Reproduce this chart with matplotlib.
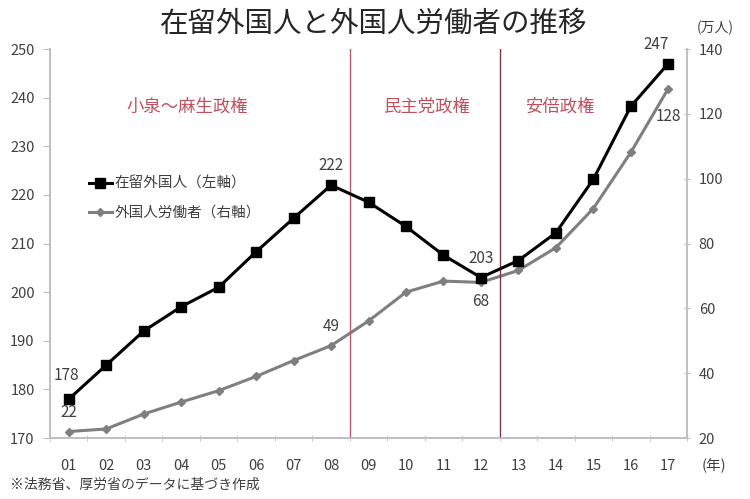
import matplotlib
matplotlib.use("Agg")
import matplotlib.pyplot as plt
from matplotlib.lines import Line2D

plt.rcParams['font.family'] = ['Noto Sans CJK JP', 'DejaVu Sans']

years = ["01", "02", "03", "04", "05", "06", "07", "08", "09",
         "10", "11", "12", "13", "14", "15", "16", "17"]
residents = [178, 185, 192, 197, 201, 208.3, 215.2, 222, 218.5,
             213.5, 207.6, 203, 206.5, 212.2, 223.2, 238.2, 247]
workers = [22, 22.8, 27.4, 31.1, 34.6, 39.0, 43.9, 48.5, 56.1,
           65.0, 68.4, 68, 71.7, 78.7, 90.8, 108.1, 127.8]
left_ticks = [170, 180, 190, 200, 210, 220, 230, 240, 250]
right_ticks = [20, 40, 60, 80, 100, 120, 140]
eras = ["小泉～麻生政権", "民主党政権", "安倍政権"]
title = "在留外国人と外国人労働者の推移"
legend_labels = ["在留外国人（左軸）", "外国人労働者（右軸）"]
note = "※法務省、厚労省のデータに基づき作成"

fig = plt.figure(figsize=(7.5, 4.99), dpi=100)
ax = fig.add_axes([0.0667, 0.1222, 0.8493, 0.7796])
ax2 = ax.twinx()

x = list(range(1, len(years) + 1))
spine_c = '#bfbfbf'
txt_c = '#404040'

ax.set_xlim(0.5, len(years) + 0.5)
ax.set_ylim(170, 250)
ax2.set_ylim(20, 140)
ax.set_yticks(left_ticks)
ax2.set_yticks(right_ticks)
ax.set_xticks(x)
ax.set_xticklabels(years)
ax.set_xticks([i + 0.5 for i in range(0, len(years) + 1)], minor=True)
ax.tick_params(axis='x', which='major', length=0, pad=15, labelsize=10.5, labelcolor=txt_c)
ax.tick_params(axis='x', which='minor', length=5, direction='inout', color=spine_c)
ax.tick_params(axis='y', length=5, color=spine_c, labelsize=10.5, labelcolor=txt_c, pad=6)
ax2.tick_params(axis='y', length=5, color=spine_c, labelsize=10.5, labelcolor=txt_c, direction='inout', pad=6)

for a in (ax, ax2):
    a.spines['top'].set_visible(False)
    for s in ('left', 'right', 'bottom'):
        a.spines[s].set_color(spine_c)
        a.spines[s].set_linewidth(1.2)

ax.axvline(8.5, color='#b85a6a', lw=1.0)
ax.axvline(12.5, color='#7a3a44', lw=1.0)

ax2.plot(x, workers, color='#7f7f7f', lw=2.2, marker='D', markersize=4.5, zorder=3)
ax.plot(x, residents, color='black', lw=2.2, marker='s', markersize=6.5, zorder=4)
ax.set_zorder(ax2.get_zorder() + 1)
ax.patch.set_visible(False)

lab_kw = dict(fontsize=11, color=txt_c, ha='center', va='center')
ax.annotate("178", (1, 178), xytext=(-2, 17), textcoords='offset points', **lab_kw)
ax.annotate("222", (8, 222), xytext=(0, 14), textcoords='offset points', **lab_kw)
ax.annotate("203", (12, 203), xytext=(0, 14), textcoords='offset points', **lab_kw)
ax.annotate("247", (17, 247), xytext=(-9, 14), textcoords='offset points', **lab_kw)
ax2.annotate("22", (1, 22), xytext=(0, 14), textcoords='offset points', **lab_kw)
ax2.annotate("49", (8, 48.5), xytext=(0, 14), textcoords='offset points', **lab_kw)
ax2.annotate("68", (12, 68), xytext=(0, -14), textcoords='offset points', **lab_kw)
ax2.annotate("128", (17, 127.8), xytext=(0, -20), textcoords='offset points', **lab_kw)

era_c = '#c0505e'
ax.text(4.15, 238.2, eras[0], fontsize=12.5, color=era_c, ha='center', va='center')
ax.text(10.55, 238.2, eras[1], fontsize=12.5, color=era_c, ha='center', va='center')
ax.text(14.1, 238.2, eras[2], fontsize=12.5, color=era_c, ha='center', va='center')

handles = [Line2D([], [], color='black', lw=2.2, marker='s', markersize=6.5),
           Line2D([], [], color='#7f7f7f', lw=2.2, marker='D', markersize=4.5)]
ax.legend(handles, legend_labels, loc='upper left', bbox_to_anchor=(0.04, 0.705),
          frameon=False, fontsize=10.5, handlelength=1.6, handletextpad=0.2,
          labelspacing=1.0, labelcolor=txt_c)

fig.text(0.498, 0.952, title, fontsize=20.5, color='#262626', ha='center', va='center')
fig.text(0.953, 0.945, "(万人)", fontsize=10, color=txt_c, ha='center', va='center')
fig.text(0.952, 0.067, "(年)", fontsize=10.5, color=txt_c, ha='center', va='center')
fig.text(0.013, 0.028, note, fontsize=10, color=txt_c, ha='left', va='center')

fig.savefig("out.png", dpi=100, facecolor='white')
